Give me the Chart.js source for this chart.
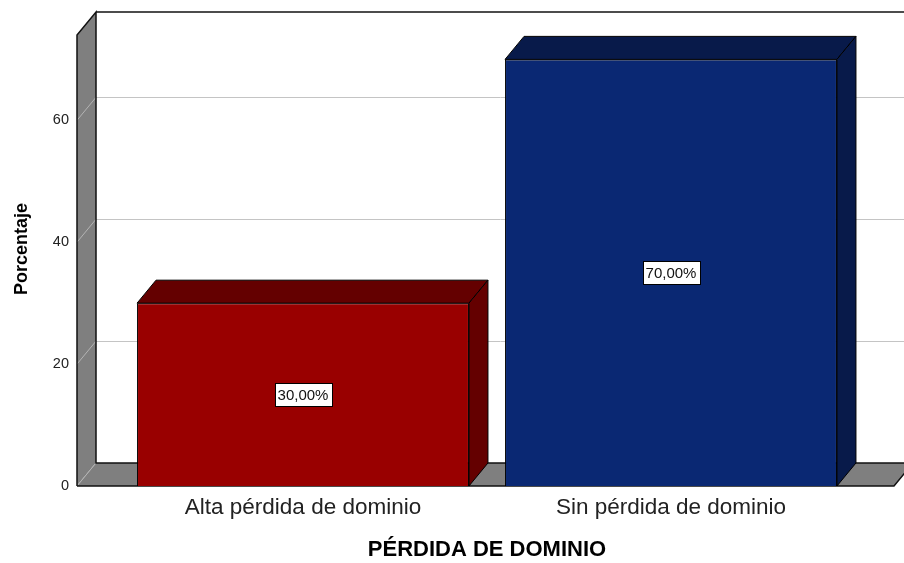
<!DOCTYPE html>
<html><head><meta charset="utf-8">
<script src="https://cdn.jsdelivr.net/npm/chart.js@4/dist/chart.umd.min.js"></script>
<style>html,body{margin:0;padding:0;background:#fff;} #wrap{width:904px;height:563px;position:relative;}</style>
</head><body><div id="wrap"><canvas id="c" width="904" height="563"></canvas></div>
<script>
// ---- data ----
const categories = ['Alta pérdida de dominio', 'Sin pérdida de dominio'];
const percentages = [30, 70];
const yTicks = [0, 20, 40, 60];
const yMax = 74;
const xTitle = 'PÉRDIDA DE DOMINIO';
const yTitle = 'Porcentaje';

// ---- style ----
const frontColors = ['#990000', '#0a2873'];
const sideColors = ['#640000', '#081a4a'];
const DX = 19, DY = -23;            // 3D depth offset
const WALL_EXT_L = 42, WALL_EXT_R = 39;
const FONT = "'Liberation Sans', Arial, Helvetica, sans-serif";
Chart.defaults.font.family = FONT;

function poly(ctx, pts, fill, stroke, lw) {
  ctx.beginPath();
  ctx.moveTo(pts[0][0], pts[0][1]);
  for (let i = 1; i < pts.length; i++) ctx.lineTo(pts[i][0], pts[i][1]);
  ctx.closePath();
  if (fill) { ctx.fillStyle = fill; ctx.fill(); }
  if (stroke) { ctx.strokeStyle = stroke; ctx.lineWidth = lw || 1; ctx.stroke(); }
}

const threeD = {
  id: 'threeD',
  beforeDatasetsDraw(chart) {
    const { ctx, chartArea: a, scales: { y } } = chart;
    const L = a.left - WALL_EXT_L, R = a.right + WALL_EXT_R;
    const B = y.getPixelForValue(0), T = y.getPixelForValue(yMax);
    ctx.save();
    // back wall gridlines
    ctx.lineWidth = 1;
    ctx.strokeStyle = '#c4c4c4';
    yTicks.forEach(v => {
      if (v === 0) return;
      const py = Math.round(y.getPixelForValue(v) + DY) + 0.5;
      ctx.beginPath(); ctx.moveTo(L + DX, py); ctx.lineTo(chart.width + 20, py); ctx.stroke();
    });
    // left wall
    poly(ctx, [[L, B], [L, T], [L + DX, T + DY], [L + DX, B + DY]], '#7f7f7f', null);
    ctx.strokeStyle = '#b4b4b4'; ctx.lineWidth = 1;
    yTicks.forEach(v => {
      const py = y.getPixelForValue(v);
      ctx.beginPath(); ctx.moveTo(L, py); ctx.lineTo(L + DX, py + DY); ctx.stroke();
    });
    // floor
    poly(ctx, [[L, B], [R, B], [R + DX, B + DY], [L + DX, B + DY]], '#7f7f7f', null);
    ctx.strokeStyle = '#b4b4b4';
    ctx.beginPath(); ctx.moveTo(L, B); ctx.lineTo(L + DX, B + DY); ctx.stroke();
    // outlines
    ctx.strokeStyle = '#111'; ctx.lineWidth = 1.5;
    ctx.beginPath();
    ctx.moveTo(L, B); ctx.lineTo(L, T); ctx.lineTo(L + DX, T + DY); ctx.lineTo(L + DX, B + DY);
    ctx.lineTo(R + DX, B + DY); ctx.lineTo(R, B); ctx.lineTo(L, B);
    ctx.stroke();
    ctx.beginPath(); ctx.moveTo(L + DX, T + DY); ctx.lineTo(chart.width + 20, T + DY); ctx.stroke();
    ctx.restore();
  },
  afterDatasetsDraw(chart) {
    const { ctx } = chart;
    const meta = chart.getDatasetMeta(0);
    ctx.save();
    meta.data.forEach((bar, i) => {
      const { x, y, width, base } = bar.getProps(['x', 'y', 'width', 'base'], true);
      const l = x - width / 2, r = x + width / 2;
      poly(ctx, [[l, y], [l + DX, y + DY], [r + DX, y + DY], [r, y]], sideColors[i], '#000', 1);
      poly(ctx, [[r, y], [r + DX, y + DY], [r + DX, base + DY], [r, base]], sideColors[i], '#000', 1);
    });
    // value labels
    ctx.font = '15px ' + FONT;
    ctx.textAlign = 'center'; ctx.textBaseline = 'middle';
    meta.data.forEach((bar, i) => {
      const { x, y, base } = bar.getProps(['x', 'y', 'base'], true);
      const txt = percentages[i].toFixed(2).replace('.', ',') + '%';
      const w = ctx.measureText(txt).width + 6, h = 23;
      const cy = (y + base) / 2;
      ctx.fillStyle = '#fff';
      ctx.fillRect(Math.round(x - w / 2) + 0.5, Math.round(cy - h / 2) + 0.5, Math.round(w), h);
      ctx.strokeStyle = '#000'; ctx.lineWidth = 1;
      ctx.strokeRect(Math.round(x - w / 2) + 0.5, Math.round(cy - h / 2) + 0.5, Math.round(w), h);
      ctx.fillStyle = '#111';
      ctx.fillText(txt, x, cy + 1);
    });
    ctx.restore();
  },
  afterDraw(chart) {
    const { ctx, scales: { y } } = chart;
    const B = y.getPixelForValue(0), T = y.getPixelForValue(yMax);
    ctx.save();
    ctx.translate(22, (T + DY + B) / 2);
    ctx.rotate(-Math.PI / 2);
    ctx.font = 'bold 18px ' + FONT;
    ctx.fillStyle = '#000';
    ctx.textAlign = 'center'; ctx.textBaseline = 'middle';
    ctx.fillText(yTitle, 0, 0);
    ctx.restore();
  }
};

new Chart(document.getElementById('c'), {
  type: 'bar',
  data: {
    labels: categories,
    datasets: [{
      data: percentages,
      backgroundColor: frontColors,
      borderColor: '#000',
      borderWidth: 1,
      categoryPercentage: 1,
      barPercentage: 0.902
    }]
  },
  options: {
    responsive: false,
    animation: false,
    devicePixelRatio: 1,
    layout: { padding: { top: 35, right: 49, bottom: 0, left: 0 } },
    plugins: { legend: { display: false }, tooltip: { enabled: false } },
    scales: {
      x: {
        offset: true,
        grid: { display: false, drawTicks: false },
        border: { display: false },
        ticks: { color: '#222', font: { size: 22.5 }, padding: 8, maxRotation: 0 },
        title: { display: true, text: xTitle, color: '#000', font: { size: 22, weight: 'bold' }, padding: { top: 0, bottom: 0 } },
        afterFit(s) { s.height = 77; }
      },
      y: {
        min: 0, max: yMax,
        afterBuildTicks(s) { s.ticks = yTicks.map(v => ({ value: v })); },
        grid: { display: false, drawTicks: false },
        border: { display: false },
        ticks: { color: '#222', font: { size: 14.5 }, padding: 50 },
        afterFit(s) { s.width = 119; s.paddingTop = 8; s.paddingBottom = 8; }
      }
    }
  },
  plugins: [threeD]
});
</script>
</body></html>
